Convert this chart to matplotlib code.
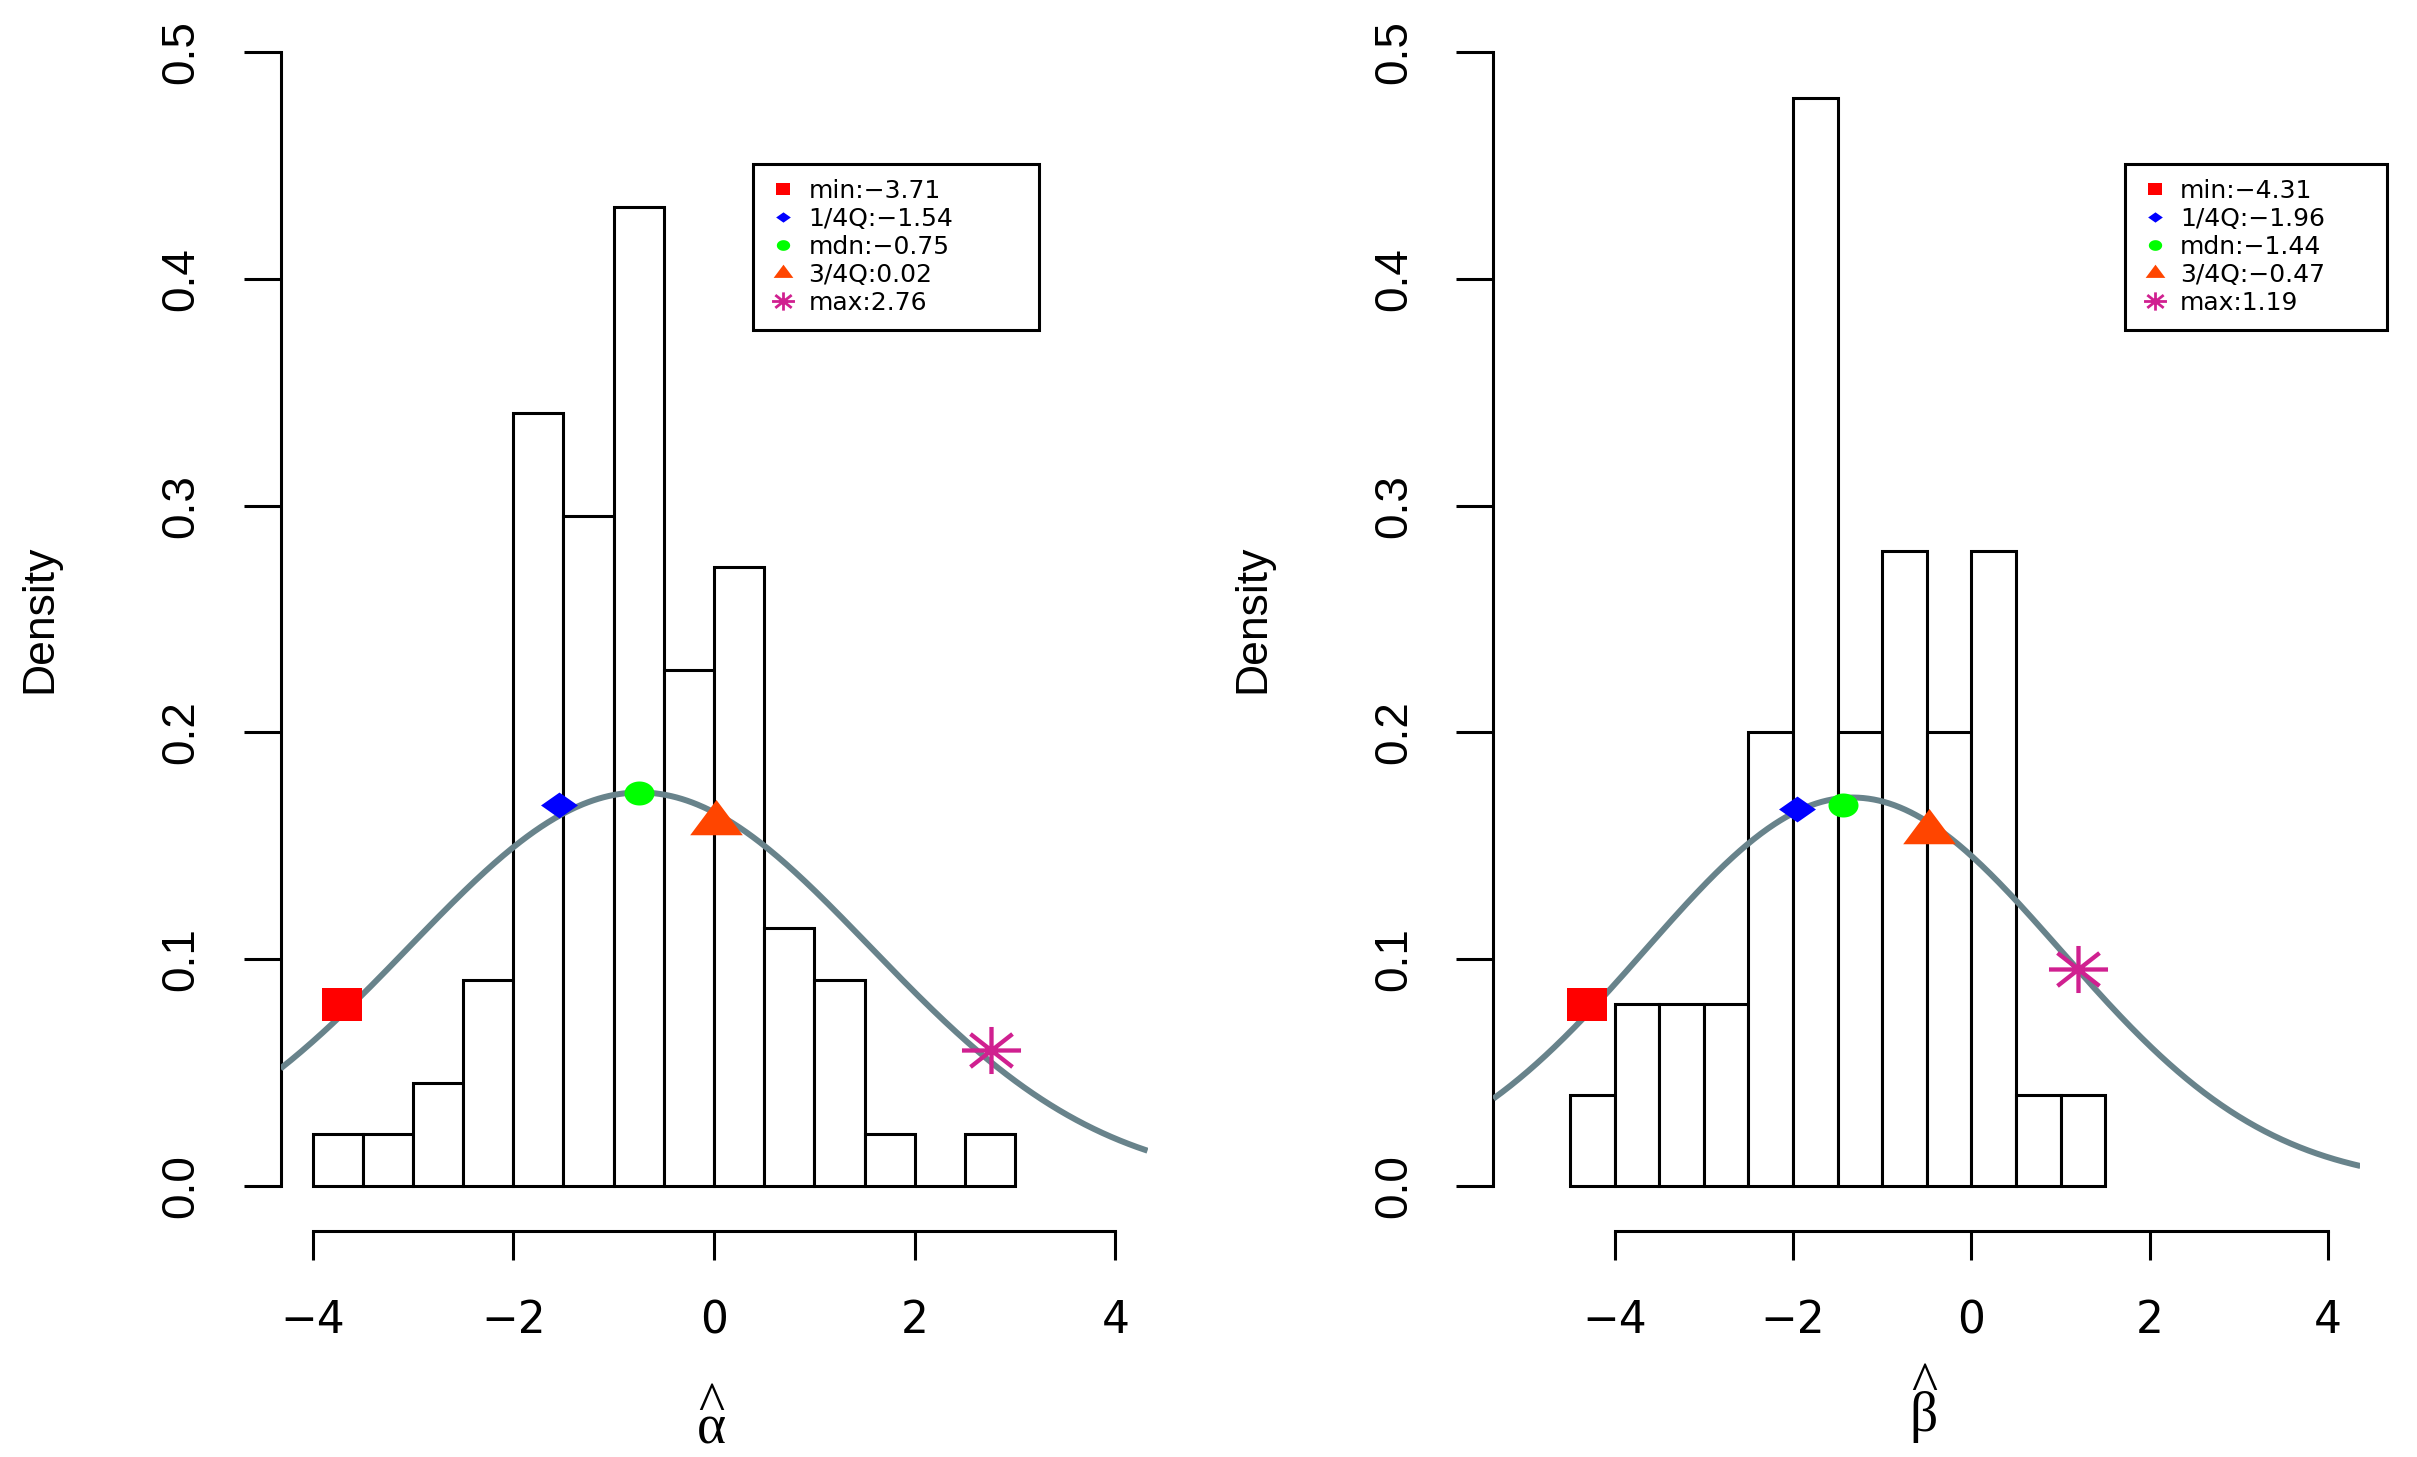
import numpy as np
import matplotlib
matplotlib.use("Agg")
import matplotlib.pyplot as plt
from matplotlib.path import Path
from matplotlib.lines import Line2D

# ---------------- data ----------------
alpha_left_edges = [-4.0, -3.5, -3.0, -2.5, -2.0, -1.5, -1.0, -0.5, 0.0, 0.5, 1.0, 1.5, 2.0, 2.5]
alpha_density = [0.0227, 0.0227, 0.0455, 0.0909, 0.3409, 0.2955, 0.4318,
                 0.2273, 0.2727, 0.1136, 0.0909, 0.0227, 0.0, 0.0227]
beta_left_edges = [-4.5, -4.0, -3.5, -3.0, -2.5, -2.0, -1.5, -1.0, -0.5, 0.0, 0.5, 1.0]
beta_density = [0.04, 0.08, 0.08, 0.08, 0.20, 0.48, 0.20, 0.28, 0.20, 0.28, 0.04, 0.04]
bin_width = 0.5

stat_names = ["min", "1/4Q", "mdn", "3/4Q", "max"]
alpha_stats = [-3.71, -1.54, -0.75, 0.02, 2.76]
alpha_stat_y = [0.080, 0.168, 0.173, 0.160, 0.060]
beta_stats = [-4.31, -1.96, -1.44, -0.47, 1.19]
beta_stat_y = [0.080, 0.166, 0.168, 0.156, 0.0955]

alpha_mu, alpha_sd = -0.74, 2.30
beta_mu, beta_sd = -1.33, 2.33

alpha_xlim = (-4.32, 4.32)
beta_xlim = (-5.36, 4.36)
x_ticks = [-4, -2, 0, 2, 4]
y_ticks = [0.0, 0.1, 0.2, 0.3, 0.4, 0.5]
y_ticklabels = ["0.0", "0.1", "0.2", "0.3", "0.4", "0.5"]

stat_colors = ["#FF0000", "#0000FF", "#00FF00", "#FF4500", "#D02090"]
curve_color = "#68838B"

# ---------------- figure geometry (pixels) ----------------
W, H = 2417, 1457
DPI = 100
fig = plt.figure(figsize=(W / DPI, H / DPI), dpi=DPI)
fig.patch.set_facecolor("white")

AX_W = 867.0
AX_TOP = 6.9
AX_BOT = 1231.0
LW = 2.2

SANS = ["Liberation Sans", "DejaVu Sans"]
SERIF = ["Liberation Serif", "DejaVu Serif"]

# ---------------- marker shapes (horizontally stretched like the reference) ----------------
M, L, C = Path.MOVETO, Path.LINETO, Path.CLOSEPOLY
sq_path = Path([(-1, -0.825), (1, -0.825), (1, 0.825), (-1, 0.825), (-1, -0.825)], [M, L, L, L, C])
dia_path = Path([(0, -0.70), (1, 0), (0, 0.70), (-1, 0), (0, -0.70)], [M, L, L, L, C])
t = np.linspace(0, 2 * np.pi, 73)
ell_verts = np.column_stack([np.cos(t), 0.8 * np.sin(t)])
ell_codes = [M] + [L] * (len(t) - 2) + [C]
ell_path = Path(ell_verts, ell_codes)
tri_path = Path([(-1, -0.4466), (1, -0.4466), (0, 0.893), (-1, -0.4466)], [M, L, L, C])
ast_path = Path([(-1, 0), (1, 0), (0, -0.797), (0, 0.797),
                 (-0.712, -0.559), (0.712, 0.559), (-0.712, 0.559), (0.712, -0.559)],
                [M, L, M, L, M, L, M, L])
marker_paths = [sq_path, dia_path, ell_path, tri_path, ast_path]
plot_ms = [28.8, 26.6, 21.6, 37.9, 42.5]
legend_ms = [10.6, 10.6, 9.6, 14.2, 16.5]


def fmt(v):
    return f"{v:.2f}".replace("-", "\u2212")


def panel(x0_px, edges, dens, xlim, mu, sd, stats, stat_y, leg_x0, leg_w,
          greek, label_bottom, label_ls):
    ax = fig.add_axes([x0_px / W, 1 - AX_BOT / H, AX_W / W, (AX_BOT - AX_TOP) / H])
    ax.set_facecolor("none")
    ax.set_xlim(*xlim)
    ax.set_ylim(-0.02, 0.52)

    ax.bar(edges, dens, width=bin_width, align="edge", facecolor="white",
           edgecolor="black", linewidth=LW, zorder=2)

    xs = np.linspace(xlim[0], xlim[1], 500)
    ys = np.exp(-0.5 * ((xs - mu) / sd) ** 2) / (sd * np.sqrt(2 * np.pi))
    ax.plot(xs, ys, color=curve_color, lw=4.3, zorder=3, solid_capstyle="butt")

    handles = []
    for i, (sx, sy) in enumerate(zip(stats, stat_y)):
        if i == 4:
            ax.plot([sx], [sy], ls="none", marker=marker_paths[i], ms=plot_ms[i],
                    markerfacecolor="none", markeredgecolor=stat_colors[i], mew=3.1, zorder=4)
            handles.append(Line2D([], [], ls="none", marker=marker_paths[i], ms=legend_ms[i],
                                  markerfacecolor="none", markeredgecolor=stat_colors[i], mew=2.0))
        else:
            ax.plot([sx], [sy], ls="none", marker=marker_paths[i], ms=plot_ms[i],
                    color=stat_colors[i], mew=0, zorder=4)
            handles.append(Line2D([], [], ls="none", marker=marker_paths[i], ms=legend_ms[i],
                                  color=stat_colors[i], mew=0))
    labels = [f"{n}:{fmt(v)}" for n, v in zip(stat_names, stats)]

    for s in ["top", "right"]:
        ax.spines[s].set_visible(False)
    ax.spines["left"].set_bounds(0, 0.5)
    ax.spines["bottom"].set_bounds(-4, 4)
    ax.spines["left"].set_linewidth(LW)
    ax.spines["bottom"].set_linewidth(LW)

    ax.set_yticks(y_ticks)
    ax.set_yticklabels(y_ticklabels, rotation=90, va="center", family=SANS, fontsize=33)
    ax.set_xticks(x_ticks)
    ax.set_xticklabels([str(v).replace("-", "\u2212") for v in x_ticks],
                       family="DejaVu Sans", fontsize=31.6)
    ax.tick_params(axis="x", length=20.9, width=LW, pad=28.3)
    ax.tick_params(axis="y", length=27.0, width=LW, pad=28.5)

    ltop = 1 - (164 - AX_TOP) / (AX_BOT - AX_TOP)
    leg = ax.legend(handles, labels, loc="upper left",
                    bbox_to_anchor=(leg_x0, ltop, leg_w, 0), mode="expand",
                    borderaxespad=0, borderpad=0.6, labelspacing=0.16,
                    handlelength=1.17, handletextpad=0.44,
                    prop={"family": "DejaVu Sans", "size": 18},
                    frameon=True, fancybox=False, framealpha=1, shadow=False)
    fr = leg.get_frame()
    fr.set_edgecolor("black")
    fr.set_linewidth(LW)
    leg.set_zorder(10)

    # y label
    yc = 1 - ((AX_TOP + AX_BOT) / 2) / H
    fig.text((x0_px - 229.1) / W, yc, "Density", rotation=90, rotation_mode="anchor",
             ha="center", va="baseline", family=SANS, fontsize=32)

    # x label: hat over a greek letter, one text object
    cx = x0_px + AX_W / 2
    fig.text((cx - 3) / W, 1 - label_bottom / H, "^\n" + greek, ha="center", va="bottom",
             multialignment="center", linespacing=label_ls, family=SERIF, fontsize=40)
    return ax


panel(280.5, alpha_left_edges, alpha_density, alpha_xlim, alpha_mu, alpha_sd,
      alpha_stats, alpha_stat_y, 0.545, 0.3299, "\u03b1", 1455, 0.24)
panel(1493.3, beta_left_edges, beta_density, beta_xlim, beta_mu, beta_sd,
      beta_stats, beta_stat_y, 0.7286, 0.3022, "\u03b2", 1443, 0.45)

fig.savefig("out.png", dpi=DPI, facecolor="white")
